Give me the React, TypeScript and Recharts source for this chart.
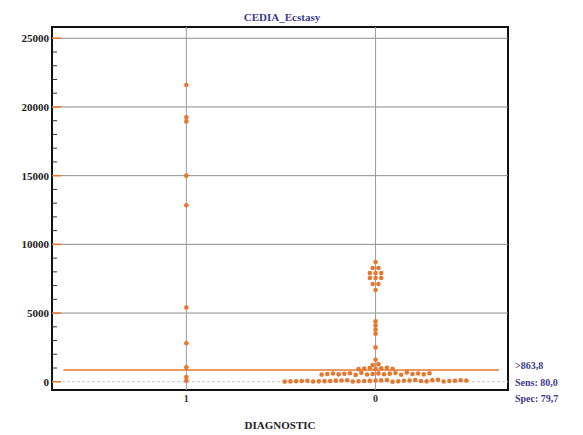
import { ScatterChart, Scatter, XAxis, YAxis, ReferenceLine, ReferenceArea } from "recharts";

const TITLE = "CEDIA_Ecstasy";
const X_LABEL = "DIAGNOSTIC";
const CATEGORIES = ["1", "0"];
const Y_TICKS = [0, 5000, 10000, 15000, 20000, 25000];
const Y_MINOR_STEP = 1000;
const CUTOFF = 863.8;
const STATS = [">863,8", "Sens: 80,0", "Spec: 79,7"];

// diagnosis = 1
const GROUP_1 = [21600, 19250, 18950, 15000, 12850, 5400, 2800, 1050, 350, 80];

// diagnosis = 0
const GROUP_0 = [
  10, 25, 40, 55, 70, 15, 30, 45, 60, 80, 95, 110, 20, 35, 50, 65, 85,
  100, 120, 5, 40, 75, 90, 130, 60, 30, 115, 140, 20, 50, 70, 105, 85,
  520, 560, 600, 540, 580, 620, 500, 650, 530, 570, 610, 550, 590, 640,
  510, 680, 560, 600, 540, 620,
  920, 960, 1000, 940, 980, 1020, 950,
  1220, 1280, 1600, 2500,
  3500, 3800, 4100, 4400,
  6680, 7110, 7110, 7550, 7550, 7550, 7910, 7910, 7910, 8280, 8280, 8710,
];

const ORANGE = "#e5772f";
const NAVY = "#3c3c8c";
const SERIF = "'Liberation Serif', 'Times New Roman', serif";
const X_DOMAIN = [0.29, 2.7];
const Y_DOMAIN = [-600, 25820];

// spread values that fall in the same bin side by side, like a dot plot
function swarm(values: number[], center: number) {
  const bins = new Map<number, number[]>();
  values.forEach((v) => {
    const b = Math.round(v / 300);
    if (!bins.has(b)) bins.set(b, []);
    bins.get(b)!.push(v);
  });
  const out: { x: number; y: number }[] = [];
  bins.forEach((vals) => {
    const n = vals.length;
    vals.forEach((v, i) => out.push({ x: center + (i - (n - 1) / 2) * 0.03, y: v }));
  });
  return out;
}

const minorTicks: number[] = [];
for (let v = 0; v <= 25000; v += Y_MINOR_STEP) minorTicks.push(v);

const Dot = (p: any) => <circle cx={p.cx} cy={p.cy} r={2.3} fill={ORANGE} />;

const YTick = ({ x, y, payload }: any) => {
  const major = Y_TICKS.includes(payload.value);
  return (
    <g>
      <line x1={x} x2={x + (major ? 9 : 5)} y1={y} y2={y} stroke={major ? ORANGE : "#333"} strokeWidth={major ? 1.5 : 1} />
      {major && (
        <text x={x - 3} y={y} dy={4} textAnchor="end" fontFamily={SERIF} fontWeight="bold" fontSize={11} fill="#222">
          {payload.value}
        </text>
      )}
    </g>
  );
};

export default function App() {
  const d1 = swarm(GROUP_1, 1);
  const d0 = swarm(GROUP_0, 2);
  const inset = 0.06;

  return (
    <div style={{ position: "absolute", left: 0, top: 0, width: 583, height: 435, background: "#fff" }}>
      <div style={{ position: "absolute", left: 182, top: 11, width: 200, textAlign: "center", fontFamily: SERIF, fontWeight: "bold", fontSize: 11, color: NAVY }}>
        {TITLE}
      </div>
      <ScatterChart width={583} height={435} margin={{ top: 27, right: 75, bottom: 0, left: 0 }}>
        <XAxis
          type="number" dataKey="x" domain={X_DOMAIN} allowDataOverflow ticks={[1, 2]}
          tickFormatter={(v) => CATEGORIES[v - 1]} height={45} tickLine={false} axisLine={false}
          tickSize={0} tickMargin={5}
          tick={{ fontFamily: SERIF, fontWeight: "bold", fontSize: 10, fill: "#333" }}
          label={{ value: X_LABEL, position: "insideBottom", offset: 6, fontFamily: SERIF, fontWeight: "bold", fontSize: 11, fill: "#222" }}
        />
        <YAxis
          type="number" dataKey="y" domain={Y_DOMAIN} allowDataOverflow ticks={minorTicks} interval={0}
          width={52} tickLine={false} axisLine={false} tickSize={0} tickMargin={0} tick={<YTick />}
        />
        {Y_TICKS.map((t) => (
          <ReferenceLine key={t} y={t} stroke={t === 0 ? "#c4c4c4" : "#8c8c8c"} strokeDasharray={t === 0 ? "3 2" : undefined} />
        ))}
        {[1, 2].map((c) => (
          <ReferenceLine key={c} x={c} stroke="#9a9a9a" />
        ))}
        <ReferenceLine
          segment={[{ x: X_DOMAIN[0] + inset, y: CUTOFF }, { x: X_DOMAIN[1] - inset * 0.8, y: CUTOFF }]}
          stroke={ORANGE} strokeWidth={1.5}
        />
        <Scatter data={d1} shape={Dot} isAnimationActive={false} />
        <Scatter data={d0} shape={Dot} isAnimationActive={false} />
        <ReferenceArea x1={X_DOMAIN[0]} x2={X_DOMAIN[1]} y1={Y_DOMAIN[0]} y2={Y_DOMAIN[1]} fill="none" stroke="#111" strokeWidth={2} />
      </ScatterChart>
      {STATS.map((s, i) => (
        <div key={s} style={{ position: "absolute", left: 515, top: 360 + i * 16.5, fontFamily: SERIF, fontWeight: "bold", fontSize: 10, lineHeight: "12px", color: NAVY, whiteSpace: "nowrap" }}>
          {s}
        </div>
      ))}
    </div>
  );
}
